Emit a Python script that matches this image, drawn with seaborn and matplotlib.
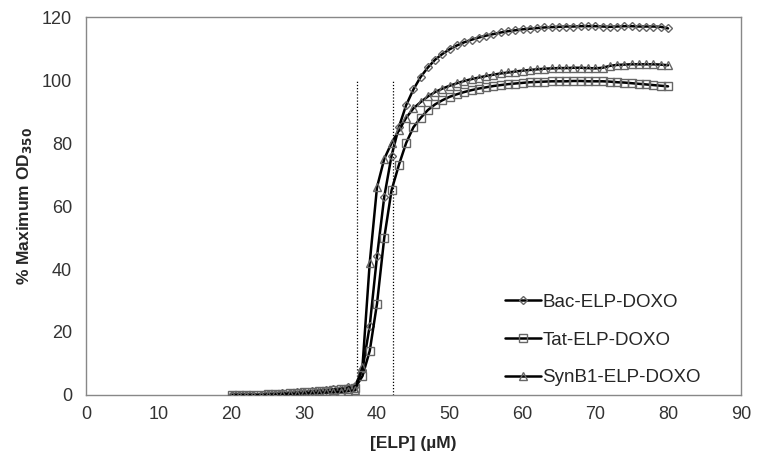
import matplotlib
matplotlib.use("Agg")
import matplotlib.pyplot as plt
import seaborn as sns
import pandas as pd

x_elp = list(range(20, 81))

bac = [0, 0, 0, 0, 0, 0.3, 0.4, 0.5, 0.7, 0.9, 1.0, 1.2, 1.4, 1.6, 1.8, 2.0, 2.4, 3.0,
       8, 22, 44, 63, 76, 85, 92, 97, 101, 104,
       106.5, 108.3, 109.8, 111, 112, 112.8, 113.5, 114.1, 114.6, 115.1,
       115.5, 115.8, 116.1, 116.3, 116.5, 116.7, 116.8, 116.9, 117, 117,
       117.1, 117.1, 117.1, 117, 116.9, 117, 117.1, 117.1, 117, 117,
       117, 116.9, 116.4]

tat = [0, 0, 0, 0, 0, 0.2, 0.3, 0.4, 0.5, 0.6, 0.8, 1.0, 1.2, 1.4, 1.6, 1.8, 2.0, 2.3,
       6, 14, 29, 50, 65, 73, 80, 85, 88, 90.5,
       92.3, 93.6, 94.7, 95.5, 96.2, 96.8, 97.3, 97.7, 98.1, 98.4,
       98.7, 98.9, 99.1, 99.3, 99.4, 99.5, 99.6, 99.6, 99.6, 99.7,
       99.7, 99.6, 99.6, 99.6, 99.5, 99.3, 99.2, 99.0, 98.8, 98.6,
       98.4, 98.2, 98.0]

synb1 = [0, 0, 0, 0, 0, 0.1, 0.2, 0.3, 0.3, 0.4, 0.5, 0.6, 0.7, 0.8, 0.9, 1.0, 1.2, 1.5,
         9, 42, 66, 75, 80, 84, 88, 91, 93, 94.8,
         96.2, 97.3, 98.2, 99, 99.7, 100.3, 100.8, 101.3, 101.7, 102.1,
         102.4, 102.7, 103, 103.2, 103.4, 103.6, 103.7, 103.8, 103.8, 103.9,
         103.9, 103.8, 103.7, 103.9, 104.5, 104.8, 104.9, 105, 105, 105,
         105, 104.9, 104.7]

series_names = ["Bac-ELP-DOXO", "Tat-ELP-DOXO", "SynB1-ELP-DOXO"]
transition_x = [37.2, 42.2]
x_ticks = [0, 10, 20, 30, 40, 50, 60, 70, 80, 90]
y_ticks = [0, 20, 40, 60, 80, 100, 120]

sns.set_style("white")
plt.rcParams['font.family'] = ['Liberation Sans', 'DejaVu Sans']

fig = plt.figure(figsize=(7.59, 4.61), dpi=100)
ax = fig.add_axes([0.1133, 0.1432, 0.8627, 0.8198])

markers = ['D', 's', '^']
msizes = [4.4, 6.0, 5.8]
for name, vals, m, ms in zip(series_names, [bac, tat, synb1], markers, msizes):
    df = pd.DataFrame({"x": x_elp, "y": vals})
    sns.lineplot(data=df, x="x", y="y", ax=ax, color="black", linewidth=1.8,
                 marker=m, markersize=ms, markerfacecolor="none",
                 markeredgecolor="#666666", markeredgewidth=1.0,
                 label=name, zorder=3)

ax.vlines(transition_x, 0, 100, colors="black", linestyles=(0, (1, 1.5)), linewidth=0.9)

ax.set_xlim(0, 90)
ax.set_ylim(0, 120)
ax.set_xticks(x_ticks)
ax.set_yticks(y_ticks)
ax.tick_params(axis='both', labelsize=13, length=0, colors="#333333")
ax.tick_params(axis='x', pad=8)
ax.tick_params(axis='y', pad=10)
for s in ax.spines.values():
    s.set_color("#888888")
    s.set_linewidth(1.0)

ax.set_xlabel("[ELP] (µM)", fontsize=12.5, fontweight="bold", labelpad=9)
ax.set_ylabel("% Maximum OD$_{\\mathbf{350}}$", fontsize=12.5, fontweight="bold", labelpad=6)

leg = ax.legend(loc="lower left", bbox_to_anchor=(0.614, -0.022), frameon=False,
                fontsize=13.5, labelspacing=1.1, handlelength=1.9, handletextpad=0.1,
                borderpad=0.4)

fig.savefig("out.png", dpi=100)
